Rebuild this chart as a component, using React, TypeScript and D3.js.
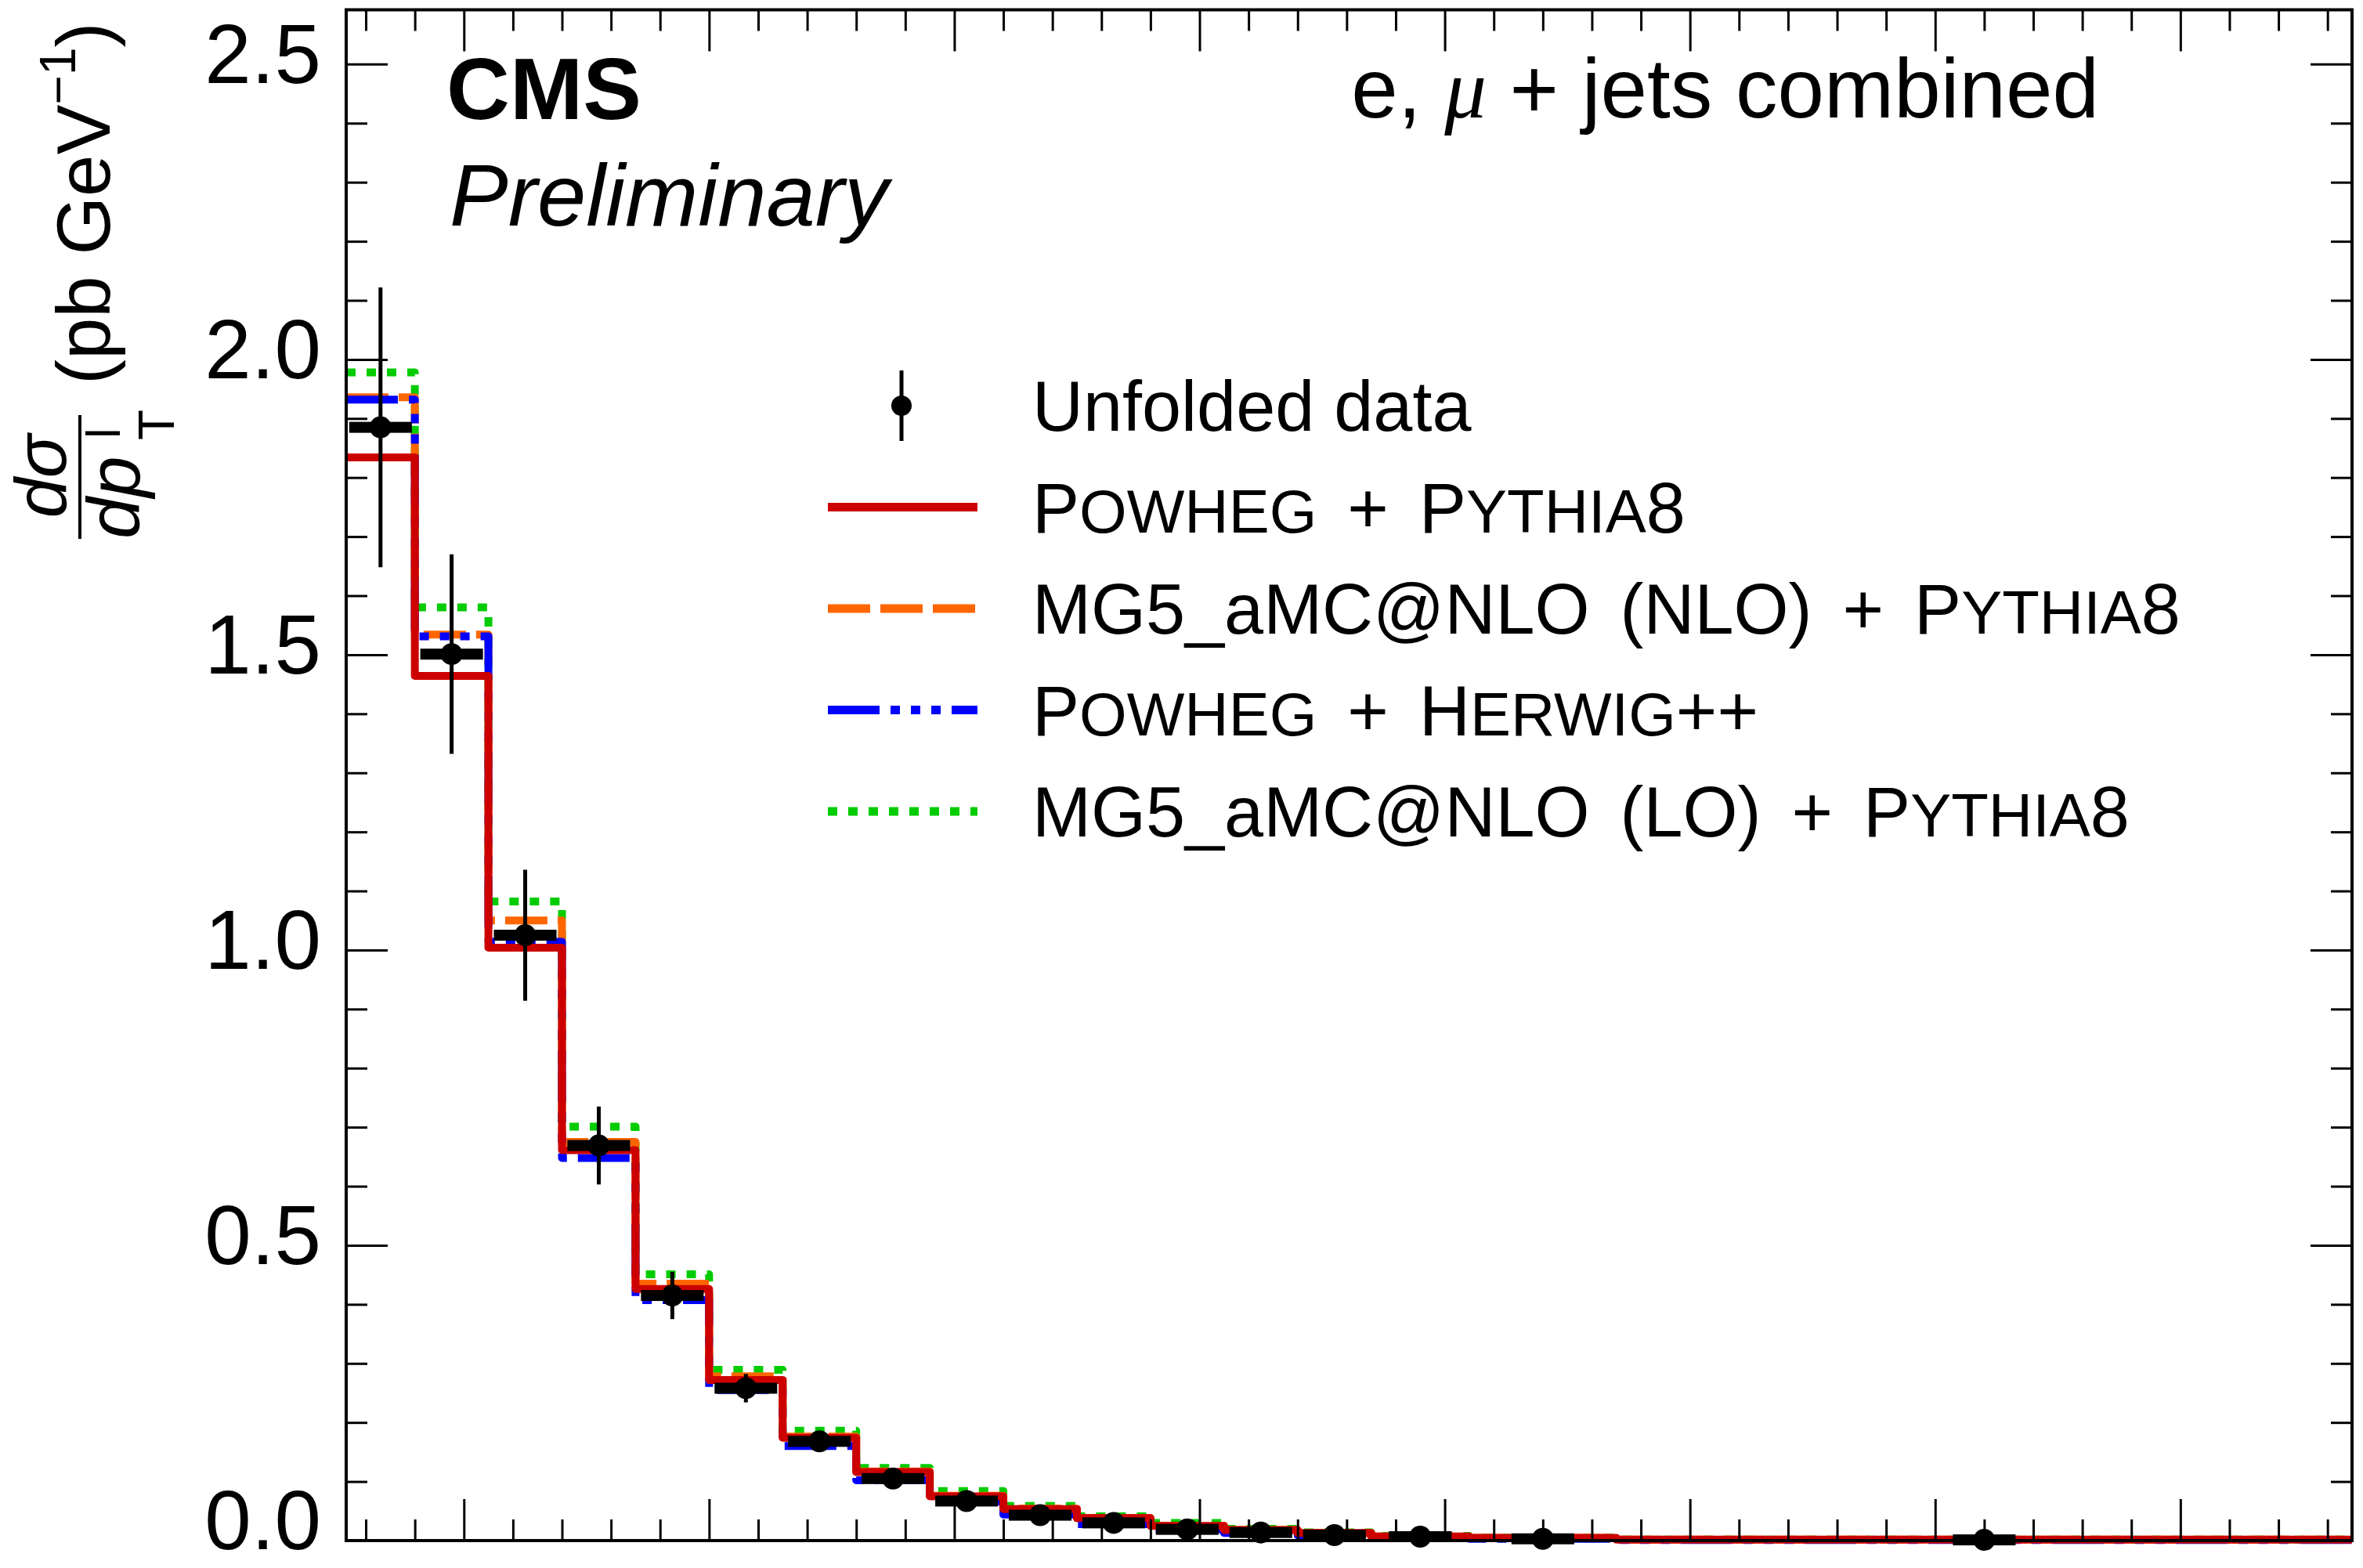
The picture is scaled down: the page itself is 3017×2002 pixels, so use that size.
import React, { useEffect, useRef } from 'react';
import * as d3 from 'd3';

// lepton pT bin edges (GeV)
const binEdges = [26, 40, 55, 70, 85, 100, 115, 130, 145, 160, 175, 190, 205, 220, 235, 255, 285, 435];

// dsigma/dpT (pb/GeV) per bin
const unfoldedData = [1.885, 1.501, 1.025, 0.669, 0.415, 0.258, 0.168, 0.105, 0.067, 0.043, 0.030, 0.019, 0.0137, 0.0093, 0.0066, 0.003, 0.0012];
const unfoldedErr = [0.237, 0.169, 0.111, 0.066, 0.040, 0.024, 0.015, 0.010, 0.007, 0.005, 0.004, 0.003, 0.002, 0.0015, 0.001, 0.0006, 0.0002];
const powhegPythia8 = [1.834, 1.464, 1.004, 0.661, 0.426, 0.272, 0.174, 0.116, 0.075, 0.0535, 0.038, 0.025, 0.018, 0.0128, 0.007, 0.0045, 0.0015];
const mg5NloPythia8 = [1.936, 1.534, 1.050, 0.675, 0.435, 0.278, 0.176, 0.117, 0.076, 0.054, 0.038, 0.025, 0.018, 0.013, 0.007, 0.0045, 0.0015];
const powhegHerwig = [1.932, 1.531, 1.014, 0.648, 0.407, 0.255, 0.160, 0.102, 0.066, 0.044, 0.028, 0.019, 0.013, 0.009, 0.005, 0.003, 0.001];
const mg5LoPythia8 = [1.978, 1.580, 1.082, 0.701, 0.451, 0.289, 0.186, 0.123, 0.084, 0.0588, 0.041, 0.030, 0.020, 0.014, 0.008, 0.005, 0.0016];

const yTicks = [0, 0.5, 1.0, 1.5, 2.0, 2.5];
const yMax = 2.592;

// {..} marks small caps
const legendLabels = [
  'Unfolded data',
  'P{OWHEG} + P{YTHIA}8',
  'MG5_aMC@NLO (NLO) + P{YTHIA}8',
  'P{OWHEG} + H{ERWIG}++',
  'MG5_aMC@NLO (LO) + P{YTHIA}8',
];

const W = 3017;
const H = 2002;
const FONT = '"Liberation Sans", Arial, Helvetica, sans-serif';

const App: React.FC = () => {
  const svgRef = useRef<SVGSVGElement>(null);

  useEffect(() => {
    if (!svgRef.current) return;
    const svg = d3.select(svgRef.current);
    svg.selectAll('*').remove();

    const plot = { left: 442, right: 3003, top: 12.5, bottom: 1967 };

    const x = d3.scaleLinear()
      .domain([binEdges[0], binEdges[binEdges.length - 1]])
      .range([plot.left, plot.right]);
    const y = d3.scaleLinear().domain([0, yMax]).range([plot.bottom, plot.top]);

    const series = [
      { values: powhegPythia8, color: '#cc0000', dash: null },
      { values: mg5NloPythia8, color: '#ff6600', dash: '54 13' },
      { values: powhegHerwig, color: '#0000ff', dash: '66 14 12 14 12 14 12 14' },
      { values: mg5LoPythia8, color: '#00cc00', dash: '12 14' },
    ];

    const stepLine = d3.line<number>()
      .x((_, i) => x(binEdges[i]))
      .y((_, i, arr) => y(arr[Math.min(i, arr.length - 2)]))
      .curve(d3.curveStepAfter);

    // histograms: green, orange, blue, then red on top
    [3, 1, 2, 0].forEach(k => {
      const s = series[k];
      const pts = [...s.values, s.values[s.values.length - 1]];
      svg.append('path')
        .attr('d', stepLine(pts))
        .attr('fill', 'none')
        .attr('stroke', s.color)
        .attr('stroke-width', 10)
        .attr('stroke-linejoin', 'round')
        .attr('stroke-dasharray', s.dash);
    });

    // data points
    const pts = svg.append('g');
    unfoldedData.forEach((v, i) => {
      const cx = x((binEdges[i] + binEdges[i + 1]) / 2);
      const e = unfoldedErr[i];
      pts.append('line')
        .attr('x1', cx).attr('x2', cx)
        .attr('y1', y(v - e)).attr('y2', Math.max(y(v + e), plot.top))
        .attr('stroke', '#000').attr('stroke-width', 5);
      pts.append('rect')
        .attr('x', cx - 40).attr('y', y(v) - 7)
        .attr('width', 80).attr('height', 14)
        .attr('fill', '#000');
      pts.append('circle')
        .attr('cx', cx).attr('cy', y(v)).attr('r', 14)
        .attr('fill', '#000');
    });

    // axes / ticks
    const styleAxis = (g: d3.Selection<SVGGElement, unknown, null, undefined>) => {
      g.select('.domain').remove();
      g.selectAll('line').attr('stroke', '#000').attr('stroke-width', 3);
    };

    const yMinor = d3.range(1, 26).map(d => d / 10).filter(d => Math.round(d * 10) % 5 !== 0);
    const xMajor = d3.range(50, 401, 50);
    const xMinor = d3.range(30, 431, 10).filter(d => d % 50 !== 0);

    const yLeft = svg.append('g')
      .attr('transform', `translate(${plot.left},0)`)
      .call(d3.axisLeft(y).tickValues(yTicks).tickSize(-53).tickPadding(32).tickFormat(d3.format('.1f')))
      .call(styleAxis);
    yLeft.selectAll<SVGTextElement, number>('text')
      .attr('font-size', 107)
      .attr('font-family', FONT)
      .attr('fill', '#000')
      .attr('dy', d => (d === 0 ? '0.1em' : '0.22em'));
    svg.append('g')
      .attr('transform', `translate(${plot.left},0)`)
      .call(d3.axisLeft(y).tickValues(yMinor).tickSize(-27).tickFormat(() => ''))
      .call(styleAxis);
    svg.append('g')
      .attr('transform', `translate(${plot.right},0)`)
      .call(d3.axisRight(y).tickValues(yTicks).tickSize(-53).tickFormat(() => ''))
      .call(styleAxis);
    svg.append('g')
      .attr('transform', `translate(${plot.right},0)`)
      .call(d3.axisRight(y).tickValues(yMinor).tickSize(-27).tickFormat(() => ''))
      .call(styleAxis);

    svg.append('g')
      .attr('transform', `translate(0,${plot.bottom})`)
      .call(d3.axisBottom(x).tickValues(xMajor).tickSize(-53).tickFormat(() => ''))
      .call(styleAxis);
    svg.append('g')
      .attr('transform', `translate(0,${plot.bottom})`)
      .call(d3.axisBottom(x).tickValues(xMinor).tickSize(-27).tickFormat(() => ''))
      .call(styleAxis);
    svg.append('g')
      .attr('transform', `translate(0,${plot.top})`)
      .call(d3.axisTop(x).tickValues(xMajor).tickSize(-53).tickFormat(() => ''))
      .call(styleAxis);
    svg.append('g')
      .attr('transform', `translate(0,${plot.top})`)
      .call(d3.axisTop(x).tickValues(xMinor).tickSize(-27).tickFormat(() => ''))
      .call(styleAxis);

    svg.append('rect')
      .attr('x', plot.left).attr('y', plot.top)
      .attr('width', plot.right - plot.left).attr('height', plot.bottom - plot.top)
      .attr('fill', 'none').attr('stroke', '#000').attr('stroke-width', 4);

    // y axis title (rotated)
    const yt = svg.append('g').attr('transform', 'rotate(-90)')
      .attr('font-family', FONT).attr('fill', '#000');
    yt.append('text')
      .attr('x', -608).attr('y', 84)
      .attr('text-anchor', 'middle')
      .attr('font-size', 92).attr('font-style', 'italic')
      .text('dσ');
    yt.append('line')
      .attr('x1', -688).attr('x2', -530)
      .attr('y1', 102).attr('y2', 102)
      .attr('stroke', '#000').attr('stroke-width', 4);
    yt.append('text')
      .attr('x', -688).attr('y', 178)
      .attr('font-size', 95).attr('font-style', 'italic')
      .text('dp');
    yt.append('text')
      .attr('x', -560).attr('y', 153)
      .attr('font-size', 62)
      .text('l');
    yt.append('text')
      .attr('x', -562).attr('y', 222)
      .attr('font-size', 64)
      .text('T');
    const unit = yt.append('text')
      .attr('x', -491).attr('y', 140)
      .attr('font-size', 96)
      .style('white-space', 'pre');
    unit.append('tspan').text('(pb GeV');
    unit.append('tspan').attr('font-size', 64).attr('dy', -44).text('−1');
    unit.append('tspan').attr('dy', 44).text(')');

    // labels
    svg.append('text')
      .attr('x', 570).attr('y', 152)
      .attr('font-family', FONT).attr('font-weight', 'bold').attr('font-size', 112)
      .text('CMS');
    svg.append('text')
      .attr('x', 574).attr('y', 288)
      .attr('font-family', FONT).attr('font-style', 'italic').attr('font-size', 112)
      .text('Preliminary');
    const chan = svg.append('text')
      .attr('x', 2680).attr('y', 150)
      .attr('text-anchor', 'end')
      .attr('font-family', FONT).attr('font-size', 107)
      .style('white-space', 'pre');
    chan.append('tspan').text('e, ');
    chan.append('tspan').attr('font-family', '"Liberation Serif", "DejaVu Serif", serif').attr('font-style', 'italic').text('μ');
    chan.append('tspan').text(' + jets combined');

    // legend
    const legendTop = 518;
    const rowH = 129.5;
    const lg = svg.append('g');
    const legendStyles = [null, series[0], series[1], series[2], series[3]];
    legendLabels.forEach((label, i) => {
      const cy = legendTop + i * rowH;
      const st = legendStyles[i];
      if (st === null) {
        lg.append('line')
          .attr('x1', 1151).attr('x2', 1151)
          .attr('y1', cy - 45).attr('y2', cy + 45)
          .attr('stroke', '#000').attr('stroke-width', 5);
        lg.append('circle').attr('cx', 1151).attr('cy', cy).attr('r', 13).attr('fill', '#000');
      } else {
        lg.append('line')
          .attr('x1', 1057).attr('x2', 1248)
          .attr('y1', cy).attr('y2', cy)
          .attr('stroke', st.color).attr('stroke-width', 11)
          .attr('stroke-dasharray', st.dash);
      }
      const t = lg.append('text')
        .attr('x', 1318).attr('y', cy + 32)
        .attr('font-family', FONT).attr('font-size', 90)
        .attr('word-spacing', i === 0 ? 0 : 14)
        .style('white-space', 'pre');
      label.split(/(\{[^}]*\})/).filter(Boolean).forEach(part => {
        const sc = part.startsWith('{');
        t.append('tspan')
          .attr('font-size', sc ? 78 : 90)
          .text(sc ? part.slice(1, -1) : part);
      });
    });
  }, []);

  return (
    <svg
      ref={svgRef}
      width={W}
      height={H}
      style={{ position: 'absolute', left: 0, top: 0, background: '#fff' }}
    />
  );
};

export default App;
